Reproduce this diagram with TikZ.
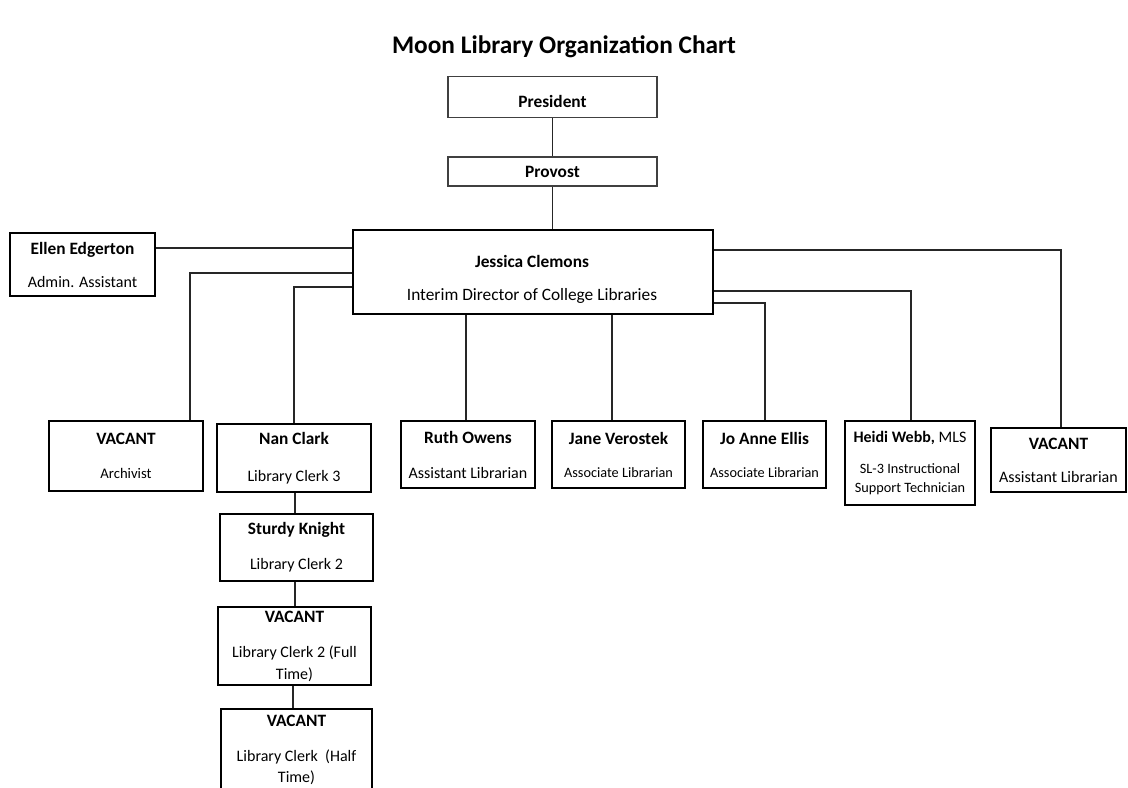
\documentclass[tikz,border=0pt]{standalone}
\usepackage{fontspec}
\setmainfont{Carlito}
\tikzset{
  post/.style={draw, line width=1.4pt, inner sep=0pt, align=center, font=\fontsize{12}{14}\selectfont},
  smallpost/.style={post, font=\fontsize{10.7}{13}\selectfont},
  toppost/.style={post, line width=0.8pt, draw=black!75, font=\fontsize{13}{15}\selectfont},
  boxsize/.style 2 args={minimum width=#1*0.75pt, minimum height=#2*0.75pt},
  link/.style={line width=0.8pt, draw=black!85},
}
\newcommand{\who}[1]{{\fontsize{13}{15}\selectfont\bfseries #1}}
\begin{document}
\begin{tikzpicture}[x=0.75pt,y=-0.75pt]
\path[use as bounding box, fill=white] (0,0) rectangle (1128,788);
\node[font=\fontsize{19}{22}\selectfont\bfseries] (title) at (564,47) {Moon Library Organization Chart};
% top of the chain
\node[toppost, boxsize={209}{41}, text height=16.5pt, text depth=0pt] (president) at (552.5,97) {\textbf{President}};
\node[toppost, boxsize={209}{29}] (provost) at (552.5,171.5) {\textbf{Provost}};
\node[post, line width=2.2pt, boxsize={360}{84}] (jessica) at (533,272) {};
\node[align=center, font=\fontsize{13}{15}\selectfont] (jessicatext) at (532,279) {\textbf{Jessica Clemons}\\[9.75pt]Interim Director of College Libraries};
\node[post, boxsize={145}{63}] (ellen) at (82.5,264.5) {\who{Ellen Edgerton}\\[10.75pt]Admin. Assistant};
% staff row
\node[post, font=\fontsize{11}{13}\selectfont, boxsize={154}{70}] (archivist) at (126,456) {\who{VACANT}\\[12.5pt]Archivist};
\node[post, boxsize={154}{68}] (nan) at (294,458) {\who{Nan Clark}\\[13.5pt]Library Clerk 3};
\node[post, boxsize={134}{67}] (ruth) at (468,454.5) {\who{Ruth Owens}\\[12.25pt]Assistant Librarian};
\node[smallpost, boxsize={133}{67}] (jane) at (618.5,454.5) {\who{Jane Verostek}\\[11.75pt]Associate Librarian};
\node[smallpost, boxsize={123}{67}] (joanne) at (764.5,454.5) {\who{Jo Anne Ellis}\\[11.75pt]Associate Librarian};
\node[smallpost, boxsize={130}{84}] (heidi) at (910,463) {{\fontsize{12}{14}\selectfont\textbf{Heidi Webb,} MLS}\\[10.25pt]SL-3 Instructional\\[1.25pt]Support Technician};
\node[post, boxsize={135}{64}] (vacasst) at (1058.5,460) {\who{VACANT}\\[10.75pt]Assistant Librarian};
% clerks under Nan Clark
\node[post, boxsize={153}{67}] (sturdy) at (296.5,547.5) {\who{Sturdy Knight}\\[12.25pt]Library Clerk 2};
\node[post, boxsize={153}{78}] (clerkfull) at (294.5,646) {\who{VACANT}\\[12.25pt]Library Clerk 2 (Full\\[2.5pt]Time)};
\node[post, boxsize={151}{81}] (clerkhalf) at (296.5,749.5) {\who{VACANT}\\[12.25pt]Library Clerk~~(Half\\[1.75pt]Time)};
% connectors
\draw[link] (president.south) -- (provost.north);
\draw[link] (provost.south) -- (provost.south |- jessica.north);
\draw[link] (ellen.east |- 0,248) -- (jessica.west |- 0,248);
\draw[link] (jessica.west |- 0,273) -| (190,0 |- archivist.north);
\draw[link] (jessica.west |- 0,287) -| (294,0 |- nan.north);
\draw[link] (466,0 |- jessica.south) -- (466,0 |- ruth.north);
\draw[link] (612,0 |- jessica.south) -- (612,0 |- jane.north);
\draw[link] (jessica.east |- 0,303) -| (765,0 |- joanne.north);
\draw[link] (jessica.east |- 0,291) -| (911,0 |- heidi.north);
\draw[link] (jessica.east |- 0,250) -| (1061,0 |- vacasst.north);
\draw[link] (295,0 |- nan.south) -- (295,0 |- sturdy.north);
\draw[link] (295,0 |- sturdy.south) -- (295,0 |- clerkfull.north);
\draw[link] (293,0 |- clerkfull.south) -- (293,0 |- clerkhalf.north);
\end{tikzpicture}
\end{document}
